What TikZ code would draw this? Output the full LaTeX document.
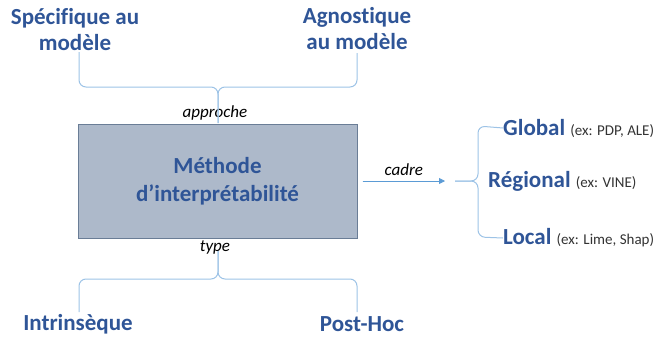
\documentclass[tikz,border=0pt]{standalone}
\usepackage{fontspec}
\setmainfont{Carlito}[Ligatures=NoCommon]
\usepackage{xcolor}
\usetikzlibrary{arrows.meta}
\definecolor{titre}{HTML}{2F5597}
\definecolor{boite}{HTML}{ADB9CA}
\definecolor{bord}{HTML}{6A7D96}
\definecolor{accolade}{HTML}{9DC3E6}
\definecolor{fleche}{HTML}{5B9BD5}
\tikzset{
  lbl/.style={font=\fontsize{23}{26}\selectfont\bfseries, text=titre, align=center, inner sep=0pt},
  petit/.style={font=\fontsize{17}{19}\selectfont\itshape, inner sep=0pt},
  brace/.style={draw=accolade, line width=1pt, rounded corners=7pt},
  methbox/.style={draw=bord, fill=boite, line width=1pt, minimum width=279pt, minimum height=114pt, align=center,
    font=\fontsize{23}{28}\selectfont\bfseries, text=titre}
}
\newcommand{\ex}[1]{\fontsize{15}{17}\selectfont\mdseries\textcolor{black!80}{#1}}
\begin{document}
\begin{tikzpicture}[x=1pt, y=-1pt]
   \useasboundingbox (0,0) rectangle (653,340);
   \node [methbox] (meth) at (217.5,181) {Méthode\\d’interprétabilité};
   \node [lbl] (spec) at (75,30) {Spécifique au\\modèle};
   \node [lbl] (agn) at (357,29) {Agnostique\\au modèle};
   \node [lbl] (intr) at (78,324) {Intrinsèque};
   \node [lbl] (post) at (362,324) {Post-Hoc};
   \node [lbl, anchor=west] (glob) at (503,128) {Global \ex{(ex: PDP, ALE)}};
   \node [lbl, anchor=west] (reg) at (488,181) {Régional \ex{(ex: VINE)}};
   \node [lbl, anchor=west] (loc) at (503,238) {Local \ex{(ex: Lime, Shap)}};
   \node [petit] (appr) at (215,113) {approche};
   \node [petit] (typ) at (215,247) {type};
   \coordinate (hautc) at (218,123);
   \coordinate (basc) at (218,251);
   \coordinate (pointe) at (455,181);
   \draw [brace] (79,52) -- (79,87) -- (218,87) -- (hautc);
   \draw [brace] (357,53) -- (357,87) -- (218,87) -- (hautc);
   \draw [brace] (basc) -- (218,279) -- (79,279) -- (79,312);
   \draw [brace] (basc) -- (218,279) -- (357,279) -- (357,312);
   \draw [brace] (pointe) -- (478,181) -- (478,126) -- (glob.west);
   \draw [brace] (pointe) -- (478,181) -- (478,237) -- (loc.west);
   \draw [-{Triangle[length=6pt,width=6pt]}, draw=fleche, fill=fleche, line width=0.8pt]
      (meth.east) ++(5,0) coordinate (depart) -- node [petit, above=5pt, text=black] (cad) {cadre} (445,181) coordinate (arrivee);
\end{tikzpicture}
\end{document}
